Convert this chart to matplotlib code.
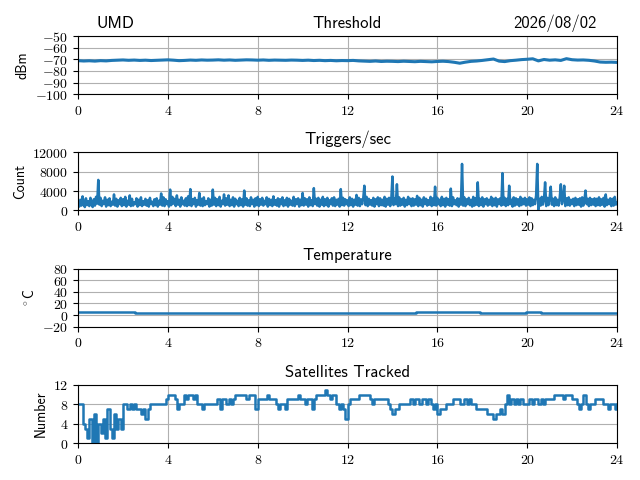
import numpy as np
import matplotlib
matplotlib.use("Agg")
import matplotlib.pyplot as plt
from matplotlib.ticker import FuncFormatter

plt.rcParams['mathtext.fontset'] = 'cm'
plt.rcParams['font.family'] = ['cmss10', 'DejaVu Sans']

# Threshold (dBm), one reading every 15 min
threshold = [
    -71.2, -71.5, -71.3, -71.6, -71.2, -71.4, -71.0, -70.8,
    -70.6, -70.9, -70.7, -71.0, -70.8, -71.1, -70.9, -70.7,
    -70.5, -70.8, -71.2, -71.0, -70.7, -70.9, -70.6, -70.8,
    -70.7, -70.5, -70.8, -70.6, -70.9, -70.7, -70.5, -70.6,
    -70.8, -70.6, -70.9, -70.7, -70.8, -70.9, -70.7, -70.8,
    -71.0, -70.8, -71.1, -70.9, -71.2, -71.0, -71.3, -71.1,
    -71.2, -71.0, -71.4, -71.6, -71.8, -71.5, -71.9, -71.7,
    -71.8, -72.0, -71.7, -71.9, -72.1, -71.8, -72.0, -72.2,
    -71.9, -71.7, -72.0, -72.6, -73.4, -72.5, -71.8, -71.5,
    -71.0, -70.4, -69.8, -71.6, -72.0, -71.2, -70.8, -70.3,
    -70.0, -69.6, -71.4, -70.2, -70.8, -70.5, -71.0, -69.5,
    -70.4, -70.7, -70.6, -70.9, -71.5, -72.4, -72.6, -72.5,
    -72.7,
]

# Triggers per second, one reading every 3 min (one row per hour)
triggers = [
    1400, 800, 2200, 1000, 2900, 1300, 700, 2500, 1100, 1900, 900, 2600, 1200, 700, 2300, 1000, 2800, 1400, 6300, 1200,
    2600, 900, 2000, 1300, 2700, 800, 2200, 1100, 2500, 900, 1800, 1200, 3300, 1000, 2400, 800, 2100, 1300, 2600, 900,
    2300, 1100, 2800, 800, 2000, 1200, 3100, 900, 2400, 1000, 1700, 1300, 2500, 800, 2200, 1100, 2700, 900, 1900, 1200,
    2400, 1000, 2100, 800, 2600, 1300, 1800, 900, 2300, 1100, 2500, 800, 2000, 1200, 3500, 1000, 2700, 900, 2300, 1300,
    1900, 800, 4300, 1100, 2800, 1400, 2400, 900, 3100, 1200, 2200, 800, 2700, 1300, 2000, 1000, 2500, 900, 2900, 1100,
    4400, 900, 2300, 1300, 2600, 800, 2100, 1200, 3600, 1000, 2400, 900, 2700, 1100, 1900, 1300, 2500, 800, 2200, 1000,
    4300, 1200, 2600, 900, 2300, 1100, 2800, 800, 2000, 1300, 3300, 1000, 2500, 1200, 3100, 900, 2200, 1100, 2700, 800,
    2400, 1300, 2000, 900, 2600, 1100, 2300, 800, 4100, 1200, 2500, 1000, 2100, 900, 2700, 1300, 2200, 800, 2500, 1100,
    2800, 900, 2300, 1200, 2600, 1000, 2000, 1300, 2700, 800, 2400, 1100, 2200, 900, 2900, 1200, 2100, 1000, 2500, 800,
    2300, 1300, 2700, 900, 2100, 1100, 2600, 800, 2400, 1200, 2000, 1000, 2800, 900, 2300, 1300, 2500, 800, 2200, 1100,
    3600, 1000, 2500, 1200, 2300, 800, 2700, 1100, 2100, 900, 4600, 1300, 2400, 1000, 2600, 800, 2200, 1200, 2800, 900,
    2300, 1100, 2600, 800, 2100, 1300, 2500, 1000, 2700, 900, 2200, 1200, 2400, 800, 4400, 1100, 2600, 1000, 2300, 1300,
    2100, 900, 2700, 1100, 2400, 800, 2200, 1200, 3200, 1000, 2600, 900, 2300, 1300, 2500, 5100, 1100, 2800, 900, 2400,
    1200, 2100, 1000, 2600, 800, 2300, 1300, 2700, 900, 2500, 1100, 2200, 1000, 2800, 800, 2400, 1200, 2600, 900, 2300,
    7000, 1100, 2500, 1300, 5400, 900, 2700, 1000, 2300, 1200, 2600, 800, 2200, 1100, 2800, 1300, 2400, 900, 2500, 1000,
    2300, 1200, 3000, 900, 2600, 1100, 2200, 800, 2700, 1300, 2400, 1000, 2100, 1200, 2800, 900, 2500, 1100, 4900, 1000,
    2600, 1300, 2200, 900, 2800, 1100, 2400, 800, 2600, 1200, 2300, 1000, 4500, 900, 2700, 1300, 2100, 1100, 2500, 800,
    2400, 1200, 9600, 1000, 2700, 900, 2300, 1300, 2600, 1100, 2200, 800, 2800, 1000, 2500, 1200, 5800, 900, 2400, 1100,
    2700, 800, 2300, 1300, 2500, 1000, 2200, 1200, 2800, 900, 2400, 1100, 2600, 800, 2300, 1300, 2500, 1000, 7700, 1200,
    2600, 900, 2400, 1100, 5100, 1300, 2200, 800, 2700, 1000, 2500, 1200, 2300, 900, 2800, 1100, 2400, 1300, 2600, 1000,
    2300, 1200, 2700, 900, 2500, 1100, 2200, 1300, 3100, 9600, 200, 2400, 1000, 2800, 1200, 2300, 5800, 900, 2600, 1100,
    2500, 4900, 1200, 2400, 900, 2700, 1100, 2200, 1000, 2600, 5400, 1300, 2300, 5100, 900, 2500, 1100, 2700, 1000, 2200,
    1300, 2400, 900, 2600, 1100, 2300, 1200, 2500, 800, 2700, 1000, 2200, 4100, 1300, 2400, 900, 2600, 1100, 2300, 1200,
    2500, 900, 2400, 1100, 2700, 1000, 2300, 1200, 2600, 800, 3300, 1100, 2200, 1300, 2500, 900, 2400, 1000, 2800, 1200,
    1600,
]

# Temperature (C), change points
temp_hours = [0, 2.55, 15.05, 17.9, 19.95, 20.6, 24]
temp_values = [5, 3.3, 5, 3.3, 5, 3.3, 3.3]

# Satellites tracked, one reading every 6 min
satellites = [
    8, 8, 4, 3, 1, 5, 0, 6, 0, 4,
    2, 5, 1, 7, 3, 1, 6, 3, 5, 3,
    8, 8, 7, 8, 7, 8, 7, 7, 6, 7,
    5, 7, 8, 8, 8, 8, 8, 8, 8, 9,
    10, 10, 10, 9, 7, 8, 8, 10, 9, 10,
    10, 9, 10, 8, 8, 7, 8, 8, 8, 8,
    8, 8, 9, 7, 9, 9, 8, 9, 8, 9,
    10, 10, 10, 10, 10, 9, 10, 10, 10, 7,
    9, 9, 9, 9, 10, 9, 9, 9, 8, 7,
    8, 8, 7, 9, 9, 9, 9, 9, 10, 9,
    9, 8, 9, 9, 7, 9, 10, 10, 10, 10,
    11, 10, 9, 10, 10, 8, 7, 8, 7, 5,
    8, 9, 9, 9, 9, 10, 10, 10, 10, 10,
    9, 8, 9, 9, 9, 9, 9, 9, 8, 7,
    6, 7, 7, 8, 8, 8, 8, 8, 9, 8,
    9, 9, 8, 9, 9, 8, 9, 8, 7, 8,
    6, 7, 7, 7, 8, 8, 8, 9, 9, 9,
    8, 8, 9, 8, 9, 8, 8, 7, 7, 7,
    7, 7, 6, 6, 6, 5, 6, 6, 7, 6,
    8, 10, 8, 9, 8, 9, 8, 9, 8, 8,
    8, 9, 8, 9, 9, 8, 9, 8, 9, 9,
    9, 9, 10, 10, 10, 10, 9, 10, 10, 10,
    9, 9, 8, 7, 8, 10, 8, 7, 8, 8,
    9, 9, 9, 9, 8, 8, 7, 8, 8, 7,
    8,
]

thr_hours = np.arange(len(threshold)) * 0.25
trig_hours = np.arange(len(triggers)) * 0.05
sat_hours = np.arange(len(satellites)) * 0.1

hour_ticks = [0, 4, 8, 12, 16, 20, 24]
math_fmt = FuncFormatter(lambda v, p: '$%d$' % v)
lw = 1.8

fig, axes = plt.subplots(4, 1, figsize=(6.4, 4.8), dpi=100)
fig.subplots_adjust(left=0.122, right=0.964, bottom=0.077, top=0.925, hspace=1.0)

ax = axes[0]
ax.plot(thr_hours, threshold, color='C0', lw=2.2)
ax.set_ylim(-100, -50)
ax.set_yticks([-100, -90, -80, -70, -60, -50])
ax.set_ylabel('dBm')
ax.set_title('Threshold', fontsize=12)
ax.set_title('UMD', loc='left', x=0.035, fontsize=12)
ax.set_title('2026/08/02', loc='right', x=0.963, fontsize=12)

ax = axes[1]
ax.plot(trig_hours, triggers, color='C0', lw=lw)
ax.set_ylim(0, 12000)
ax.set_yticks([0, 4000, 8000, 12000])
ax.set_ylabel('Count')
ax.set_title('Triggers/sec', fontsize=12)

ax = axes[2]
ax.step(temp_hours, temp_values, where='post', color='C0', lw=lw)
ax.set_ylim(-20, 80)
ax.set_yticks([-20, 0, 20, 40, 60, 80])
ax.set_ylabel(r'$^\circ$C')
ax.set_title('Temperature', fontsize=12)

ax = axes[3]
ax.step(sat_hours, satellites, where='post', color='C0', lw=lw)
ax.set_ylim(0, 12)
ax.set_yticks([0, 4, 8, 12])
ax.set_ylabel('Number')
ax.set_title('Satellites Tracked', fontsize=12)

for ax in axes:
    ax.set_xlim(0, 24)
    ax.set_xticks(hour_ticks)
    ax.xaxis.set_major_formatter(math_fmt)
    ax.yaxis.set_major_formatter(math_fmt)
    ax.grid(True)

fig.savefig('out.png', dpi=100)
